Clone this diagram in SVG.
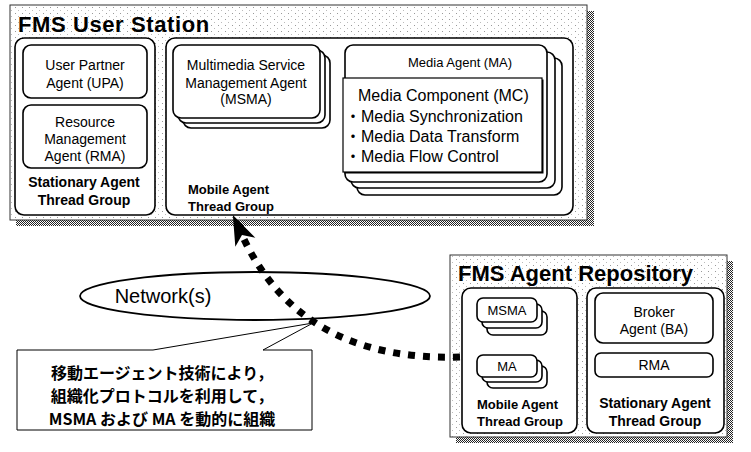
<svg xmlns="http://www.w3.org/2000/svg" width="751" height="452" viewBox="0 0 751 452">
<defs>
<pattern id="stip" width="7" height="6" patternUnits="userSpaceOnUse">
<rect width="7" height="6" fill="#fff"/>
<rect x="1" y="1" width="1" height="1" fill="#999"/>
<rect x="4" y="4" width="1" height="1" fill="#bbb"/>
</pattern>
<pattern id="hatch" width="2" height="2" patternUnits="userSpaceOnUse">
<rect width="2" height="2" fill="#fff"/>
<rect width="1" height="1" fill="#222"/>
<rect x="1" y="1" width="1" height="1" fill="#222"/>
</pattern>
<marker id="arr" markerUnits="userSpaceOnUse" viewBox="-10 -12 34 24" markerWidth="34" markerHeight="24" refX="0" refY="0" orient="auto">
<path d="M22,0 L-8,-11 L0,0 L-8,11 Z" fill="#000"/>
</marker>
<style>
.t{font-family:"Liberation Sans",Arial,"Noto Sans CJK JP",sans-serif;fill:#000}
.title{font-size:22px;font-weight:bold}
.s14{font-size:14px}
.s13{font-size:13px}
.lb{font-size:14px;font-weight:bold}
.lb13{font-size:13px;font-weight:bold}
.mc{font-size:16px}
.jp{font-family:"Noto Sans CJK JP",sans-serif;font-size:16px;font-weight:bold;fill:#000}
.outer{fill:url(#stip);stroke:#333;stroke-width:1}
.shadow{fill:url(#hatch)}
.grp{fill:#fff;stroke:#000;stroke-width:1.6}
.box{fill:#fff;stroke:#000;stroke-width:1.6}
.c{text-anchor:middle}
</style>
</defs>

<g id="user-station">
<rect class="shadow" x="587" y="11" width="7" height="215"/>
<rect class="shadow" x="16" y="220" width="578" height="6"/>
<rect class="outer" x="10" y="5" width="577" height="215"/>
<text class="t title" x="18" y="32" letter-spacing="0.6">FMS User Station</text>
</g>

<g id="us-stationary-group">
<rect class="grp" x="15" y="38" width="140" height="177" rx="9"/>
<text class="t lb c" x="84" y="187">Stationary Agent</text>
<text class="t lb c" x="84" y="205">Thread Group</text>
</g>

<g id="upa">
<rect class="box" x="23" y="45" width="124" height="53" rx="8"/>
<text class="t s14 c" x="85" y="70">User Partner</text>
<text class="t s14 c" x="85" y="88">Agent (UPA)</text>
</g>

<g id="rma">
<rect class="box" x="23" y="105" width="124" height="63" rx="8"/>
<text class="t s14 c" x="85" y="127">Resource</text>
<text class="t s14 c" x="85" y="144">Management</text>
<text class="t s14 c" x="85" y="161">Agent (RMA)</text>
</g>

<g id="us-mobile-group">
<rect class="grp" x="166" y="38" width="407" height="177" rx="9"/>
<text class="t lb13" x="188" y="194">Mobile Agent</text>
<text class="t lb13" x="188" y="211">Thread Group</text>
</g>

<g id="msma">
<rect class="box" x="183" y="55" width="147" height="73" rx="8"/>
<rect class="box" x="178" y="50" width="147" height="73" rx="8"/>
<rect class="box" x="173" y="45" width="147" height="73" rx="8"/>
<text class="t s14 c" x="246" y="70">Multimedia Service</text>
<text class="t s14 c" x="246" y="88">Management Agent</text>
<text class="t s14 c" x="246" y="104">(MSMA)</text>
</g>

<g id="ma">
<rect class="box" x="357" y="58" width="205" height="137" rx="8"/>
<rect class="box" x="351" y="52" width="204" height="136" rx="8"/>
<rect class="box" x="345" y="45" width="202" height="137" rx="8"/>
<text class="t s13 c" x="460" y="67">Media Agent (MA)</text>
</g>

<g id="mc">
<rect x="344.5" y="79.5" width="199" height="94" fill="#000"/>
<rect x="343" y="78" width="199" height="94" fill="#fff" stroke="#000" stroke-width="1.2"/>
<text class="t mc" x="358" y="101">Media Component (MC)</text>
<text class="t mc" x="345" y="122">・Media Synchronization</text>
<text class="t mc" x="345" y="142">・Media Data Transform</text>
<text class="t mc" x="345" y="162">・Media Flow Control</text>
</g>

<g id="repository">
<rect class="shadow" x="727" y="261" width="6" height="182"/>
<rect class="shadow" x="456" y="437" width="277" height="6"/>
<rect class="outer" x="450" y="255" width="277" height="182"/>
<text class="t title" x="458" y="281">FMS Agent Repository</text>
</g>

<g id="repo-mobile-group">
<rect class="grp" x="462" y="288" width="115" height="145" rx="9"/>
<text class="t lb13" x="477" y="409">Mobile Agent</text>
<text class="t lb13" x="477" y="426">Thread Group</text>
</g>

<g id="repo-msma">
<rect class="box" x="487" y="311" width="60" height="24" rx="6"/>
<rect class="box" x="482" y="304" width="60" height="24" rx="6"/>
<rect class="box" x="477" y="298" width="60" height="24" rx="6"/>
<text class="t s13 c" x="507" y="315">MSMA</text>
</g>

<g id="repo-ma">
<rect class="box" x="487" y="366" width="60" height="22" rx="6"/>
<rect class="box" x="482" y="360" width="60" height="22" rx="6"/>
<rect class="box" x="477" y="355" width="60" height="22" rx="6"/>
<text class="t s13 c" x="507" y="371">MA</text>
</g>

<g id="repo-stationary-group">
<rect class="grp" x="587" y="288" width="137" height="145" rx="9"/>
<text class="t lb c" x="655" y="408">Stationary Agent</text>
<text class="t lb c" x="655" y="426">Thread Group</text>
</g>

<g id="broker">
<rect class="box" x="595" y="293" width="118" height="50" rx="8"/>
<text class="t s14 c" x="654" y="317">Broker</text>
<text class="t s14 c" x="654" y="334">Agent (BA)</text>
</g>

<g id="repo-rma">
<rect class="box" x="595" y="353" width="118" height="24" rx="6"/>
<text class="t s14 c" x="654" y="370">RMA</text>
</g>

<g id="network">
<ellipse cx="255" cy="296" rx="175" ry="24" fill="#fff" stroke="#000" stroke-width="1.8"/>
<text class="t c" x="163" y="303" font-size="20">Network(s)</text>
</g>

<g id="callout">
<path d="M17,350 H153 L313,323 L263,350 H312 V430 H17 Z" fill="#fff" stroke="#000" stroke-width="1"/>
<text class="jp c" x="162" y="379">移動エージェント技術により，</text>
<text class="jp c" x="162" y="402">組織化プロトコルを利用して，</text>
<text class="jp c" x="162" y="425">MSMA および MA を動的に組織</text>
</g>

<g id="connectors">
<path d="M460,357 Q300,362 242,235" fill="none" stroke="#000" stroke-width="7" stroke-dasharray="7 8" marker-end="url(#arr)"/>
</g>
</svg>
